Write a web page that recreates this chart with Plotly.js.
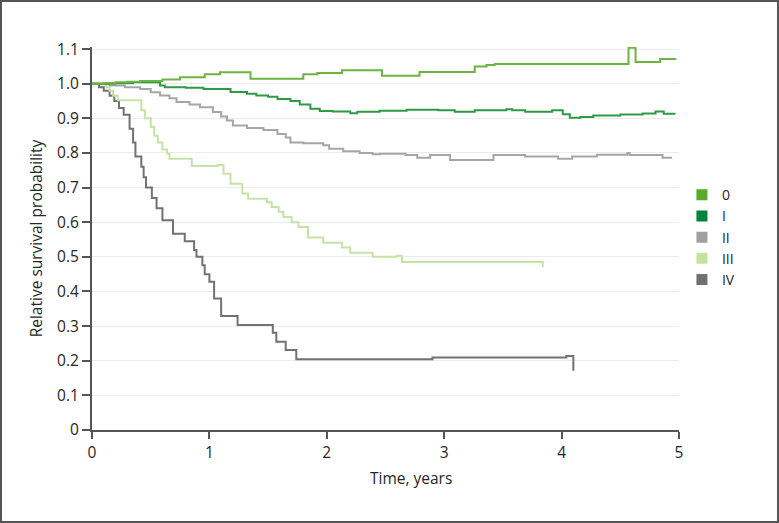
<!DOCTYPE html>
<html>
<head>
<meta charset="utf-8">
<script src="https://cdn.plot.ly/plotly-3.0.1.min.js"></script>
<style>
  html, body { margin: 0; padding: 0; background: #fff; }
  #wrap { position: relative; width: 779px; height: 523px; }
  #chart { width: 779px; height: 523px; }
  #frame { position: absolute; left: 0; top: 0; width: 779px; height: 523px; box-sizing: border-box; border: 2px solid #555; pointer-events: none; }
</style>
</head>
<body>
<div id="wrap"><div id="chart"></div><div id="frame"></div></div>
<script>
// Stage names and colours
const stageNames = ["0", "I", "II", "III", "IV"];
const lineColors = ["#6db33f", "#2f9a45", "#a6a6a6", "#c6e3a6", "#727272"];
const legendColors = ["#5aab2a", "#00843d", "#a0a0a0", "#c5e3a0", "#707070"];

// Series (time in years, relative survival)
const x0 = [0, 0.1, 0.2, 0.3, 0.41, 0.6, 0.75, 0.96, 1.09, 1.35, 1.80, 1.92, 2.13, 2.47, 2.79, 3.26, 3.36, 3.43, 4.57, 4.63, 4.84, 4.97];
const y0 = [1.0, 1.002, 1.004, 1.006, 1.008, 1.012, 1.019, 1.027, 1.033, 1.014, 1.027, 1.031, 1.039, 1.023, 1.034, 1.05, 1.054, 1.057, 1.104, 1.063, 1.071, 1.073];

const xI = [0, 0.2, 0.35, 0.58, 0.62, 0.8, 0.95, 1.18, 1.32, 1.4, 1.5, 1.58, 1.69, 1.77, 1.86, 1.94, 2.05, 2.2, 2.26, 2.45, 2.68, 2.95, 3.09, 3.26, 3.53, 3.58, 3.69, 3.92, 4.01, 4.07, 4.16, 4.27, 4.5, 4.69, 4.8, 4.87, 4.97];
const yI = [1.0, 1.001, 1.004, 0.995, 0.99, 0.988, 0.985, 0.976, 0.971, 0.966, 0.962, 0.956, 0.95, 0.94, 0.928, 0.921, 0.92, 0.915, 0.919, 0.922, 0.925, 0.923, 0.919, 0.923, 0.926, 0.923, 0.919, 0.923, 0.912, 0.902, 0.904, 0.908, 0.911, 0.914, 0.92, 0.913, 0.913];

const xII = [0, 0.15, 0.28, 0.41, 0.5, 0.58, 0.66, 0.72, 0.83, 0.92, 1.03, 1.1, 1.15, 1.2, 1.32, 1.46, 1.58, 1.65, 1.69, 1.8, 1.97, 2.02, 2.14, 2.28, 2.39, 2.45, 2.67, 2.77, 2.88, 3.05, 3.42, 3.69, 3.97, 4.09, 4.3, 4.56, 4.58, 4.84, 4.86, 4.94];
const yII = [1.0, 0.995, 0.99, 0.985, 0.975, 0.966, 0.958, 0.947, 0.94, 0.932, 0.918, 0.905, 0.894, 0.879, 0.872, 0.866, 0.855, 0.845, 0.83, 0.828, 0.822, 0.812, 0.805, 0.8, 0.796, 0.798, 0.794, 0.786, 0.794, 0.78, 0.794, 0.79, 0.783, 0.79, 0.795, 0.8, 0.794, 0.794, 0.786, 0.786];

const xIII = [0, 0.12, 0.15, 0.18, 0.22, 0.42, 0.45, 0.5, 0.53, 0.56, 0.6, 0.64, 0.66, 0.85, 1.07, 1.12, 1.18, 1.28, 1.33, 1.49, 1.53, 1.59, 1.63, 1.7, 1.76, 1.84, 1.97, 2.13, 2.2, 2.39, 2.6, 2.64, 3.84];
const yIII = [1.0, 0.99, 0.98, 0.965, 0.952, 0.923, 0.9, 0.875, 0.85, 0.83, 0.81, 0.798, 0.783, 0.762, 0.765, 0.74, 0.711, 0.683, 0.668, 0.658, 0.644, 0.63, 0.615, 0.6, 0.586, 0.556, 0.541, 0.527, 0.512, 0.5, 0.503, 0.485, 0.471];

const xIV = [0, 0.06, 0.1, 0.15, 0.19, 0.23, 0.27, 0.32, 0.35, 0.37, 0.42, 0.44, 0.46, 0.51, 0.55, 0.6, 0.69, 0.79, 0.87, 0.89, 0.94, 0.96, 1.0, 1.04, 1.1, 1.24, 1.54, 1.57, 1.65, 1.74, 2.9, 4.04, 4.1];
const yIV = [1.0, 0.99, 0.98, 0.965, 0.95, 0.93, 0.91, 0.87, 0.83, 0.79, 0.76, 0.73, 0.7, 0.67, 0.64, 0.606, 0.567, 0.545, 0.52, 0.5, 0.476, 0.45, 0.428, 0.38, 0.329, 0.303, 0.281, 0.255, 0.231, 0.204, 0.209, 0.214, 0.171];

// Axis ticks
const yTickVals = [0, 0.1, 0.2, 0.3, 0.4, 0.5, 0.6, 0.7, 0.8, 0.9, 1.0, 1.1];
const yTickText = ["0", "0.1", "0.2", "0.3", "0.4", "0.5", "0.6", "0.7", "0.8", "0.9", "1.0", "1.1"];
const xTickVals = [0, 1, 2, 3, 4, 5];

const xs = [x0, xI, xII, xIII, xIV];
const ys = [y0, yI, yII, yIII, yIV];

const FONT = "'Open Sans', 'Noto Sans', sans-serif";
const TXT = "#262626";
const traces = [];
for (let i = 4; i >= 0; i--) {
  traces.push({
    x: xs[i], y: ys[i], type: "scatter", mode: "lines",
    line: { shape: "hv", color: lineColors[i], width: 2 },
    showlegend: false, hoverinfo: "skip"
  });
}
for (let i = 0; i < 5; i++) {
  traces.push({
    x: [null], y: [null], type: "scatter", mode: "markers",
    name: stageNames[i],
    marker: { symbol: "square", size: 11, color: legendColors[i] },
    showlegend: true
  });
}

const layout = {
  width: 779, height: 523,
  margin: { l: 92, r: 100, t: 47, b: 93 },
  paper_bgcolor: "#fff", plot_bgcolor: "#fff",
  font: { family: FONT, size: 15, color: TXT },
  showlegend: true,
  legend: {
    x: 1.005, xanchor: "left", y: 0.655, yanchor: "top",
    font: { family: FONT, size: 14, color: TXT },
    bgcolor: "rgba(0,0,0,0)", borderwidth: 0, tracegroupgap: 0
  },
  xaxis: {
    range: [0, 5], tickvals: xTickVals, ticktext: xTickVals.map(String),
    showgrid: false, zeroline: false,
    showline: true, linecolor: "#555", linewidth: 2,
    ticks: "outside", ticklen: 7, tickwidth: 2, tickcolor: "#555",
    tickfont: { family: FONT, size: 15.5, color: TXT },
    fixedrange: true
  },
  yaxis: {
    range: [0, 1.106], tickvals: yTickVals, ticktext: yTickText,
    showgrid: true, gridcolor: "#ebebeb", gridwidth: 1, zeroline: false,
    showline: true, linecolor: "#555", linewidth: 2,
    ticks: "outside", ticklen: 8, tickwidth: 2, tickcolor: "#555",
    tickfont: { family: FONT, size: 15.5, color: TXT },
    title: { text: "Relative survival probability", font: { family: FONT, size: 15.5, color: TXT }, standoff: 11 },
    fixedrange: true
  },
  annotations: [{
    text: "Time, years", xref: "paper", yref: "paper",
    x: 0.543, y: -0.125, xanchor: "center", yanchor: "middle",
    showarrow: false, font: { family: FONT, size: 15.5, color: TXT }
  }]
};

Plotly.newPlot("chart", traces, layout, { staticPlot: true, displayModeBar: false });
</script>
</body>
</html>
